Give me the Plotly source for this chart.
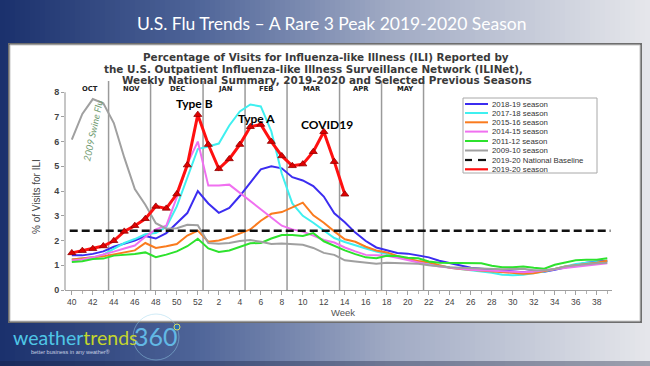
import plotly.graph_objects as go

# ---------------- data ----------------
week_labels = [str(w) for w in list(range(40, 53, 2)) + list(range(2, 39, 2))]
week_tickpos = list(range(0, 51, 2))

s2018_19 = [1.40, 1.40, 1.46, 1.56, 1.75, 1.86, 2.00, 2.18, 2.08, 2.30, 2.70, 3.11, 4.00, 3.50, 3.12, 3.32,
            3.80, 4.32, 4.88, 5.00, 4.92, 4.56, 4.43, 4.20, 3.78, 3.10, 2.74, 2.32, 1.98, 1.72, 1.60, 1.50,
            1.47, 1.38, 1.32, 1.18, 1.08, 0.98, 0.90, 0.86, 0.82, 0.78, 0.75, 0.72, 0.78, 0.74, 0.82, 0.92,
            1.02, 1.10, 1.15, 1.18]
s2017_18 = [1.23, 1.26, 1.32, 1.43, 1.68, 1.90, 2.06, 2.25, 2.30, 2.55, 3.38, 4.58, 5.70, 5.80, 5.92, 6.65,
            7.22, 7.50, 7.42, 6.42, 4.70, 3.50, 3.00, 2.72, 2.40, 2.10, 1.94, 1.80, 1.68, 1.56, 1.45, 1.36,
            1.25, 1.15, 1.08, 0.98, 0.90, 0.85, 0.80, 0.76, 0.70, 0.62, 0.60, 0.62, 0.68, 0.75, 0.85, 0.95,
            1.05, 1.10, 1.12, 1.15]
s2015_16 = [1.23, 1.26, 1.32, 1.36, 1.43, 1.50, 1.60, 1.90, 1.70, 1.77, 1.86, 2.20, 2.40, 1.95, 2.00, 2.12,
            2.27, 2.45, 2.80, 3.08, 3.15, 3.33, 3.53, 3.02, 2.72, 2.37, 2.05, 1.95, 1.75, 1.60, 1.52, 1.38,
            1.25, 1.17, 1.12, 1.00, 0.90, 0.85, 0.82, 0.78, 0.75, 0.72, 0.68, 0.66, 0.68, 0.75, 0.85, 0.95,
            1.00, 1.05, 1.10, 1.18]
s2014_15 = [1.19, 1.23, 1.32, 1.42, 1.55, 1.68, 1.80, 2.15, 2.45, 2.60, 3.75, 5.10, 6.00, 4.22, 4.22, 4.26,
            3.93, 3.62, 3.27, 2.93, 2.60, 2.45, 2.36, 2.20, 2.02, 1.92, 1.72, 1.56, 1.42, 1.40, 1.38, 1.30,
            1.20, 1.12, 1.02, 0.95, 0.90, 0.86, 0.82, 0.80, 0.78, 0.76, 0.74, 0.72, 0.75, 0.80, 0.85, 0.90,
            0.95, 1.00, 1.05, 1.08]
s2011_12 = [1.13, 1.16, 1.25, 1.27, 1.39, 1.42, 1.46, 1.52, 1.33, 1.43, 1.56, 1.77, 2.07, 1.68, 1.54, 1.60,
            1.75, 1.89, 1.90, 2.08, 2.22, 2.22, 2.18, 2.30, 1.97, 1.78, 1.60, 1.45, 1.32, 1.28, 1.38, 1.37,
            1.30, 1.28, 1.15, 1.10, 1.10, 1.10, 1.10, 1.08, 0.98, 0.92, 0.92, 0.95, 0.90, 0.86, 1.02, 1.10,
            1.20, 1.22, 1.22, 1.28]
s2009_10 = [6.08, 7.12, 7.72, 7.55, 6.75, 5.35, 4.08, 3.45, 2.70, 2.48, 2.50, 2.64, 2.62, 1.90, 1.87, 1.90,
            1.98, 2.02, 1.95, 1.86, 1.88, 1.85, 1.83, 1.70, 1.50, 1.42, 1.20, 1.15, 1.10, 1.06, 1.10, 1.08,
            1.06, 1.06, 1.00, 0.95, 0.92, 0.90, 0.88, 0.85, 0.85, 0.84, 0.85, 0.86, 0.80, 0.80, 0.85, 0.95,
            1.00, 1.05, 1.08, 1.10]
s2019_20 = [1.50, 1.59, 1.67, 1.78, 1.99, 2.37, 2.60, 2.88, 3.38, 3.30, 3.88, 5.05, 7.09, 5.88, 4.90, 5.30,
            5.88, 6.60, 6.69, 6.00, 5.42, 5.02, 5.09, 5.59, 6.40, 5.19, 3.87]
baseline = 2.4

month_names = ["OCT", "NOV", "DEC", "JAN", "FEB", "MAR", "APR", "MAY"]
month_label_pos = [1.7, 5.7, 10.1, 14.6, 18.5, 22.9, 27.5, 31.7]
month_dividers = [3.5, 7.5, 12.5, 16.5, 20.5, 25.5, 29.5, 33.5]

series = [
    ("2018-19 season", s2018_19, "#3b2cf0"),
    ("2017-18 season", s2017_18, "#3ff0f0"),
    ("2015-16 season", s2015_16, "#fa7b1e"),
    ("2014-15 season", s2014_15, "#f070f0"),
    ("2011-12 season", s2011_12, "#2de22d"),
    ("2009-10 season", s2009_10, "#a0a0a0"),
]
red_name = "2019-20 season"
base_name = "2019-20 National Baseline"

# ---------------- geometry helpers ----------------
W, H = 650, 366
ML, MR, MT, MB = 65, 38, 81, 76
PW, PH = W - ML - MR, H - MT - MB


def PX(X):
    return (X - ML) / PW


def PY(Y):
    return (H - MB - Y) / PH


fig = go.Figure()

# gradient slide background
stops = [(0.0, (26, 48, 108)), (0.3, (78, 100, 152)), (0.6, (160, 170, 196)), (1.0, (230, 231, 235))]


def grad(t):
    for (t0, c0), (t1, c1) in zip(stops[:-1], stops[1:]):
        if t <= t1:
            f = (t - t0) / (t1 - t0)
            return "rgb(%d,%d,%d)" % tuple(round(a + (b - a) * f) for a, b in zip(c0, c1))
    return "rgb(%d,%d,%d)" % stops[-1][1]


shapes = []
step = 5
for X in range(0, W, step):
    shapes.append(dict(type="rect", xref="paper", yref="paper", x0=PX(X), x1=PX(X + step + 0.5),
                       y0=PY(H), y1=PY(0), fillcolor=grad((X + step / 2) / W), line=dict(width=0),
                       layer="below"))
# darker bottom edge of the slide
shapes.append(dict(type="rect", xref="paper", yref="paper", x0=PX(0), x1=PX(W), y0=PY(H), y1=PY(361),
                   fillcolor="rgba(20,30,60,0.35)", line=dict(width=0), layer="below"))
# white panel
shapes.append(dict(type="rect", xref="paper", yref="paper", x0=PX(8), x1=PX(642), y0=PY(323), y1=PY(43),
                   fillcolor="#6e6e6e", line=dict(width=0), layer="below"))
shapes.append(dict(type="rect", xref="paper", yref="paper", x0=PX(10), x1=PX(640), y0=PY(321), y1=PY(45),
                   fillcolor="#ffffff", line=dict(color="#c8c8c8", width=1), layer="below"))

# month dividers
for m in month_dividers:
    shapes.append(dict(type="line", xref="x", yref="paper", x0=m, x1=m, y0=0, y1=1,
                       line=dict(color="#9a9a9a", width=1.5), layer="below"))
# y axis line
shapes.append(dict(type="line", xref="paper", yref="y", x0=0, x1=0, y0=0, y1=8,
                   line=dict(color="#a0a0a0", width=1.2), layer="below"))

# logo ring
shapes.append(dict(type="circle", xref="paper", yref="paper", x0=PX(133), x1=PX(179), y0=PY(360), y1=PY(314),
                   line=dict(color="rgba(150,210,235,0.45)", width=1), layer="above"))
shapes.append(dict(type="circle", xref="paper", yref="paper", x0=PX(174), x1=PX(180), y0=PY(330), y1=PY(324),
                   fillcolor="#2a6fb0", line=dict(color="#d8e060", width=1), layer="above"))

# ---------------- traces ----------------
x_all = list(range(len(s2018_19)))
for name, vals, col in series:
    fig.add_trace(go.Scatter(x=x_all[:len(vals)], y=vals, mode="lines", name=name,
                             line=dict(color=col, width=2), showlegend=False, hoverinfo="skip"))

fig.add_trace(go.Scatter(x=[-0.2, 51.3], y=[baseline, baseline], mode="lines", name=base_name,
                         line=dict(color="#111111", width=2.5, dash="8px,4px"), showlegend=False))

fig.add_trace(go.Scatter(x=x_all[:len(s2019_20)], y=s2019_20, mode="lines+markers", name=red_name,
                         line=dict(color="#ff1010", width=3),
                         marker=dict(symbol="triangle-up", size=7, color="#e00000",
                                     line=dict(color="#900000", width=0.8)),
                         showlegend=False))

# ---------------- legend (manual, compact) ----------------
lx0, lx1, ly0, ly1 = 463, 597, 98, 173
shapes.append(dict(type="rect", xref="paper", yref="paper", x0=PX(lx0), x1=PX(lx1), y0=PY(ly1), y1=PY(ly0),
                   fillcolor="#ffffff", line=dict(color="#a8a8a8", width=1), layer="above"))
rows = [104, 113, 122.3, 131.6, 141, 150.5, 160, 169.3]
legend_items = [(n, c, "solid") for n, _, c in series] + [(base_name, "#111111", "dash"), (red_name, "#ff1010", "red")]
annotations = []
for (n, c, kind), Y in zip(legend_items, rows):
    if kind == "dash":
        for a, b in [(465, 472), (478, 486)]:
            shapes.append(dict(type="line", xref="paper", yref="paper", x0=PX(a), x1=PX(b), y0=PY(Y), y1=PY(Y),
                               line=dict(color=c, width=2.2), layer="above"))
    else:
        shapes.append(dict(type="line", xref="paper", yref="paper", x0=PX(465), x1=PX(488), y0=PY(Y), y1=PY(Y),
                           line=dict(color=c, width=2 if kind == "solid" else 2.2), layer="above"))
    annotations.append(dict(text=n, xref="paper", yref="paper", x=PX(489.5), y=PY(Y), xanchor="left",
                            yanchor="middle", showarrow=False,
                            font=dict(family="Liberation Sans, Arial", size=7.8, color="#333333")))
fig.add_trace(go.Scatter(x=[PX(476.5)], y=[PY(169.3)], xaxis="x2", yaxis="y2", mode="markers",
                         marker=dict(symbol="triangle-up", size=5, color="#c00000"), showlegend=False,
                         hoverinfo="skip"))

# ---------------- texts ----------------
def ann(text, X, Y, size, color, family="Lato", xanchor="center", angle=0, weight="normal", style="normal"):
    annotations.append(dict(text=text, xref="paper", yref="paper", x=PX(X), y=PY(Y), xanchor=xanchor,
                            yanchor="middle", showarrow=False, textangle=angle,
                            font=dict(family=family, size=size, color=color, weight=weight, style=style)))


ann("U.S. Flu Trends – A Rare 3 Peak 2019-2020 Season", 331, 23, 17.5, "#ffffff", family="Lato")
ann("Percentage of Visits for Influenza-like Illness (ILI) Reported by", 326, 57, 10.4, "#3a3a3a",
    family="DejaVu Sans", weight="bold")
ann("the U.S. Outpatient Influenza-like Illness Surveillance Network (ILINet),", 313, 69, 10.4, "#3a3a3a",
    family="DejaVu Sans", weight="bold")
ann("Weekly National Summary, 2019-2020 and Selected Previous Seasons", 327, 80.5, 10.4, "#3a3a3a",
    family="DejaVu Sans", weight="bold")

for name, pos in zip(month_names, month_label_pos):
    annotations.append(dict(text=name, xref="x", yref="paper", x=pos, y=PY(88.5), xanchor="center",
                            yanchor="middle", showarrow=False,
                            font=dict(family="DejaVu Sans", size=6.8, color="#222222", weight="bold")))

ann("Type B", 194, 103, 12, "#000000", family="Lato", weight="bold")
ann("Type A", 256, 118.5, 12, "#000000", family="Lato", weight="bold")
ann("COVID19", 327, 124, 12, "#000000", family="Lato", weight="bold")
ann("2009 Swine Flu", 92.5, 131, 9.5, "#6f9a6f", family="Lato", angle=-78, style="italic")
ann("% of Visits for ILI", 36, 197, 10, "#444444", family="Liberation Sans Narrow, Arial Narrow, Liberation Sans",
    angle=-90)
ann("Week", 343, 312.5, 9.5, "#555555", family="Liberation Sans, Arial")

# logo
ann("<span style='color:#4fc6e6'>weather</span><span style='color:#c4d62c'>trends</span>", 11, 337, 19.5,
    "#4fc6e6", family="Lato", xanchor="left")
ann("360", 132, 335.5, 25, "#62b8e4", family="Lato", xanchor="left")
ann("better business in any weather®", 29, 351.5, 5.5, "#c8d0e4", family="Liberation Sans, Arial",
    xanchor="left")

fig.update_layout(
    width=W, height=H,
    margin=dict(l=ML, r=MR, t=MT, b=MB, pad=0),
    paper_bgcolor="#1a306c",
    plot_bgcolor="rgba(0,0,0,0)",
    showlegend=False,
    hovermode=False,
    shapes=shapes,
    annotations=annotations,
    xaxis=dict(range=[-0.65, 51.45], tickmode="array", tickvals=week_tickpos, ticktext=week_labels,
               showgrid=False, zeroline=False, showline=True, linecolor="#a0a0a0", linewidth=1.2,
               ticks="outside", ticklen=4, tickcolor="#a0a0a0",
               tickfont=dict(family="Liberation Sans, Arial", size=8.5, color="#444444"),
               minor=dict(tickmode="linear", tick0=0, dtick=1, ticks="outside", ticklen=3, tickcolor="#b0b0b0")),
    yaxis=dict(range=[0, 8.45], tickmode="array", tickvals=list(range(0, 9)), showgrid=False, zeroline=False,
               showline=False, ticks="outside", ticklen=3, tickcolor="#a0a0a0",
               tickfont=dict(family="Liberation Sans, Arial", size=9, color="#444444", weight="bold")),
    xaxis2=dict(range=[0, 1], domain=[0, 1], visible=False, overlaying="x"),
    yaxis2=dict(range=[0, 1], domain=[0, 1], visible=False, overlaying="y"),
)

fig.write_html("out.html", config={"displayModeBar": False, "staticPlot": True},
               post_script="document.body.style.margin='0px';document.body.style.padding='0px';"
                           "document.body.style.overflow='hidden';")
